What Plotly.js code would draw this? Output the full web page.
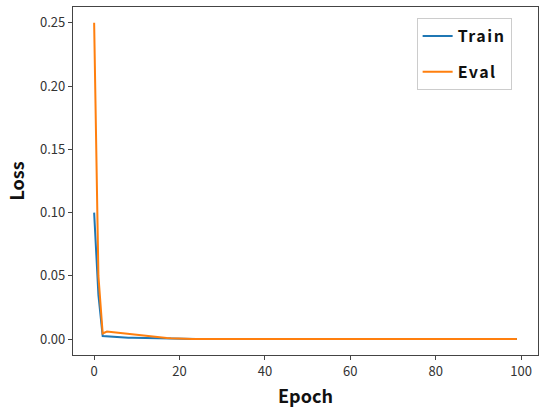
<!DOCTYPE html>
<html>
<head>
<meta charset="utf-8">
<script src="https://cdn.plot.ly/plotly-3.0.1.min.js"></script>
<style>
  html, body { margin: 0; padding: 0; background: #fff; }
  #chart { width: 550px; height: 413px; }
  .legendtext { letter-spacing: 1.5px; }
</style>
</head>
<body>
<div id="chart"></div>
<script>
"use strict";

// epochs 0..99
const epochs = [];
for (let i = 0; i < 100; i++) epochs.push(i);

// values
const trainLoss = [
  0.100, 0.035, 0.0025, 0.0022, 0.0020, 0.0018, 0.0016, 0.0014, 0.0012, 0.0011,
  0.0010, 0.0009, 0.0008, 0.0007, 0.0006, 0.0005, 0.0004, 0.0004, 0.0003, 0.0003,
  0.0002, 0.0002, 0.0002, 0.0002, 0.0001, 0.0001, 0.0001, 0.0001, 0.0001, 0.0001,
  0.0001, 0.0001, 0.0001, 0.0001, 0.0001, 0.0001, 0.0001, 0.0001, 0.0001, 0.0001,
  0.0001, 0.0001, 0.0001, 0.0001, 0.0001, 0.0001, 0.0001, 0.0001, 0.0001, 0.0001,
  0.0001, 0.0001, 0.0001, 0.0001, 0.0001, 0.0001, 0.0001, 0.0001, 0.0001, 0.0001,
  0.0001, 0.0001, 0.0001, 0.0001, 0.0001, 0.0001, 0.0001, 0.0001, 0.0001, 0.0001,
  0.0001, 0.0001, 0.0001, 0.0001, 0.0001, 0.0001, 0.0001, 0.0001, 0.0001, 0.0001,
  0.0001, 0.0001, 0.0001, 0.0001, 0.0001, 0.0001, 0.0001, 0.0001, 0.0001, 0.0001,
  0.0001, 0.0001, 0.0001, 0.0001, 0.0001, 0.0001, 0.0001, 0.0001, 0.0001, 0.0001
];

const evalLoss = [
  0.250, 0.050, 0.0045, 0.0060, 0.0056, 0.0052, 0.0048, 0.0044, 0.0040, 0.0036,
  0.0032, 0.0028, 0.0024, 0.0020, 0.0017, 0.0014, 0.0011, 0.0009, 0.0007, 0.0005,
  0.0004, 0.0003, 0.0003, 0.0002, 0.0002, 0.0002, 0.0002, 0.0002, 0.0002, 0.0002,
  0.0002, 0.0002, 0.0002, 0.0002, 0.0002, 0.0002, 0.0002, 0.0002, 0.0002, 0.0002,
  0.0002, 0.0002, 0.0002, 0.0002, 0.0002, 0.0002, 0.0002, 0.0002, 0.0002, 0.0002,
  0.0002, 0.0002, 0.0002, 0.0002, 0.0002, 0.0002, 0.0002, 0.0002, 0.0002, 0.0002,
  0.0002, 0.0002, 0.0002, 0.0002, 0.0002, 0.0002, 0.0002, 0.0002, 0.0002, 0.0002,
  0.0002, 0.0002, 0.0002, 0.0002, 0.0002, 0.0002, 0.0002, 0.0002, 0.0002, 0.0002,
  0.0002, 0.0002, 0.0002, 0.0002, 0.0002, 0.0002, 0.0002, 0.0002, 0.0002, 0.0002,
  0.0002, 0.0002, 0.0002, 0.0002, 0.0002, 0.0002, 0.0002, 0.0002, 0.0002, 0.0002
];

const xTicks = [0, 20, 40, 60, 80, 100];
const yTicks = [0.00, 0.05, 0.10, 0.15, 0.20, 0.25];

const font = "'Noto Sans CJK SC', 'DejaVu Sans', sans-serif";

const traces = [
  {
    type: "scatter", mode: "lines", name: "Train", legendgroup: "a",
    x: epochs, y: trainLoss,
    line: { color: "#1f77b4", width: 2 },
  },
  {
    type: "scatter", mode: "lines", name: "Eval", legendgroup: "b",
    x: epochs, y: evalLoss,
    line: { color: "#ff7f0e", width: 2 },
  },
];

const axisCommon = {
  showgrid: false,
  zeroline: false,
  showline: true,
  mirror: true,
  linecolor: "#444",
  linewidth: 1.2,
  ticks: "outside",
  ticklen: 4,
  tickcolor: "#444",
  tickfont: { family: font, size: 13, color: "#333" },
};

const layout = {
  width: 550,
  height: 413,
  margin: { l: 73, r: 12, t: 7, b: 58 },
  paper_bgcolor: "#fff",
  plot_bgcolor: "#fff",
  font: { family: font },
  xaxis: Object.assign({}, axisCommon, {
    range: [-4.95, 103.95],
    tickvals: xTicks,
    title: { text: "<b>Epoch</b>", font: { family: font, size: 18, color: "#111" }, standoff: 11 },
  }),
  yaxis: Object.assign({}, axisCommon, {
    range: [-0.0125, 0.2625],
    tickvals: yTicks,
    tickformat: ".2f",
    title: { text: "<b>Loss</b>", font: { family: font, size: 18, color: "#111" }, standoff: 10 },
  }),
  showlegend: true,
  legend: {
    x: 0.739, y: 0.968, xanchor: "left", yanchor: "top",
    bgcolor: "#fff",
    bordercolor: "#ccc",
    borderwidth: 1,
    font: { family: font, size: 16, color: "#111", weight: "bold" },
    traceorder: "grouped",
    tracegroupgap: 12,
    itemwidth: 30,
  },
};

Plotly.newPlot("chart", traces, layout, { displayModeBar: false, staticPlot: true });
</script>
</body>
</html>
